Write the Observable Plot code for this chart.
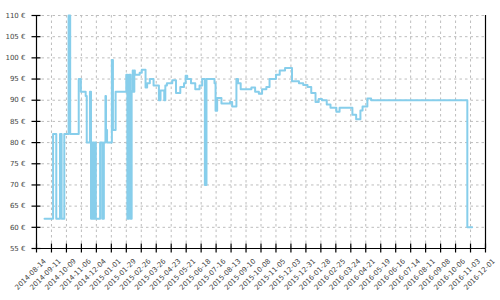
<!DOCTYPE html>
<html>
<head>
<meta charset="utf-8">
<script src="https://cdn.jsdelivr.net/npm/d3@7"></script>
<script src="https://cdn.jsdelivr.net/npm/@observablehq/plot@0.6"></script>
<style>
  html, body { margin: 0; padding: 0; background: #fff; }
</style>
</head>
<body>
<div id="chart"></div>
<script>
const priceDates = [
  "2014-08-29","2014-09-14","2014-09-20","2014-09-27","2014-09-30","2014-10-05","2014-10-13","2014-10-16",
  "2014-11-01","2014-11-05","2014-11-14","2014-11-16","2014-11-22","2014-11-24","2014-11-27","2014-11-29",
  "2014-12-01","2014-12-03","2014-12-11","2014-12-15","2014-12-18","2014-12-21","2014-12-22","2014-12-24",
  "2015-01-02","2015-01-04","2015-01-09","2015-01-29","2015-01-31","2015-02-03","2015-02-06","2015-02-08",
  "2015-02-10","2015-02-11","2015-02-13","2015-02-14","2015-02-23","2015-02-27","2015-03-06","2015-03-09",
  "2015-03-14","2015-03-21","2015-03-31","2015-04-03","2015-04-10","2015-04-12","2015-04-15","2015-04-25",
  "2015-05-02","2015-05-10","2015-05-17","2015-05-20","2015-05-23","2015-05-30","2015-06-07","2015-06-15",
  "2015-06-20","2015-06-25","2015-06-28","2015-07-13","2015-07-15","2015-07-18","2015-07-26","2015-08-11",
  "2015-08-15","2015-08-23","2015-08-26","2015-08-31","2015-09-20","2015-09-27","2015-10-04","2015-10-10",
  "2015-10-18","2015-10-24","2015-11-05","2015-11-12","2015-11-22","2015-12-05","2015-12-18","2015-12-26",
  "2016-01-03","2016-01-10","2016-01-18","2016-01-24","2016-01-30","2016-02-08","2016-02-15","2016-02-26",
  "2016-03-03","2016-03-27","2016-04-03","2016-04-11","2016-04-15","2016-04-24","2016-05-01","2016-10-28",
  "2016-11-06"
];
const prices = [
  62, 82, 62, 82, 62, 82, 110, 82,
  95, 92, 91, 80, 92, 62, 80, 62,
  80, 62, 80, 62, 80, 91, 83, 80,
  99.5, 83, 92, 96, 62, 96, 62, 92,
  97, 92, 97, 96, 96.5, 97.2, 93, 94,
  95, 93.5, 90, 92.3, 90, 93.5, 94, 94.7,
  91.7, 93.1, 94, 95.8, 95, 94, 92.6, 93.5,
  95, 70, 95, 94, 87.5, 90.5, 89.2, 89.6,
  88.5, 95, 94, 92.6, 93, 92, 91.5, 92.6,
  93.1, 95, 96, 97, 97.6, 94.5, 94, 93.6,
  93.1, 91.7, 89.6, 90.3, 90, 89, 88.2, 87.3,
  88.2, 86.6, 85.5, 87.6, 88.5, 90.4, 90, 60,
  60
];
const xTickLabels = [
  "2014-08-14","2014-09-11","2014-10-09","2014-11-06","2014-12-04","2015-01-01","2015-01-29","2015-02-26",
  "2015-03-26","2015-04-23","2015-05-21","2015-06-18","2015-07-16","2015-08-13","2015-09-10","2015-10-08",
  "2015-11-05","2015-12-03","2015-12-31","2016-01-28","2016-02-25","2016-03-24","2016-04-21","2016-05-19",
  "2016-06-16","2016-07-14","2016-08-11","2016-09-08","2016-10-06","2016-11-03","2016-12-01"
];
const yTicks = [55, 60, 65, 70, 75, 80, 85, 90, 95, 100, 105, 110];

const data = priceDates.map((d, i) => ({date: new Date(d), price: prices[i]}));
const xTicks = xTickLabels.map(s => new Date(s));
const xStart = xTicks[0], xEnd = xTicks[xTicks.length - 1];

const gridStyle = {stroke: "#bdbdbd", strokeOpacity: 1, strokeWidth: 1, strokeDasharray: "2.5,3"};

const chart = Plot.plot({
  width: 500,
  height: 300,
  marginTop: 15,
  marginBottom: 52,
  marginLeft: 36,
  marginRight: 15,
  style: {fontFamily: "DejaVu Sans", fontSize: "7px", background: "#fff", overflow: "visible"},
  x: {type: "utc", domain: [xStart, xEnd]},
  y: {domain: [55, 110]},
  marks: [
    Plot.gridX(xTicks, gridStyle),
    Plot.gridY(yTicks, gridStyle),
    Plot.line(data, {x: "date", y: "price", curve: "step-after", stroke: "#87ceeb", strokeWidth: 2}),
    Plot.ruleX([xStart], {stroke: "#000", strokeWidth: 1.2}),
    Plot.ruleX([xEnd], {stroke: "#000", strokeWidth: 1.2}),
    Plot.ruleY([55], {stroke: "#000", strokeWidth: 1.2}),
    Plot.axisY(yTicks, {tickSize: 9, dx: 4.5, tickFormat: () => "", label: null, stroke: "#000", strokeWidth: 1.2}),
    Plot.axisY(yTicks, {tickSize: 0, tickPadding: 11, tickFormat: d => `${d} €`, label: null, fill: "#444"}),
    Plot.axisX(xTicks, {tickSize: 9, dy: -4.5, tickFormat: () => "", label: null, stroke: "#000", strokeWidth: 1.2}),
    Plot.text(xTicks, {x: d => d, frameAnchor: "bottom", text: (d, i) => xTickLabels[i],
      rotate: -45, textAnchor: "end", dx: 10, dy: 13, fill: "#444"})
  ]
});
document.getElementById("chart").appendChild(chart);
</script>
</body>
</html>
